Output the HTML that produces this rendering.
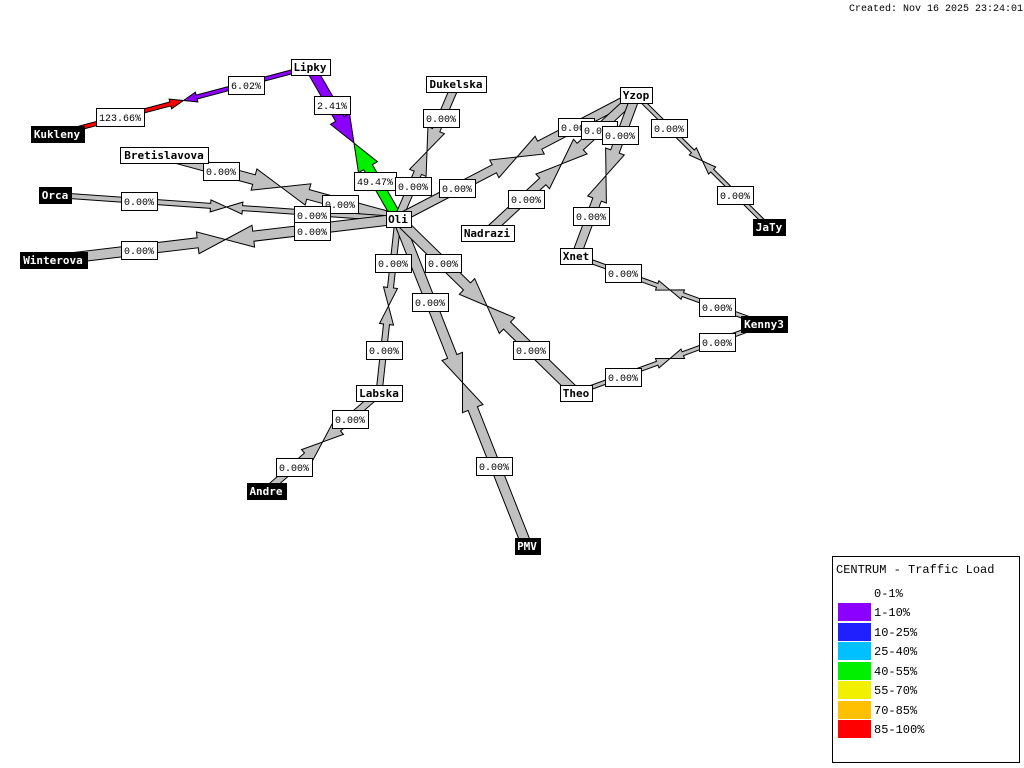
<!DOCTYPE html>
<html><head><meta charset="utf-8">
<style>
html,body{margin:0;padding:0;background:#fff;width:1024px;height:768px;overflow:hidden}
svg{display:block}
.lbl{font-family:"Liberation Mono","DejaVu Sans Mono",monospace;font-size:10px}
.nd{font-family:"DejaVu Sans Mono","Liberation Mono",monospace;font-size:11px;font-weight:bold}
</style></head><body>
<svg id="s" width="1024" height="768" xmlns="http://www.w3.org/2000/svg">
<g id="links"></g><g id="labels"></g><g id="nodes"></g>
<text x="849" y="11" class="lbl" fill="#000">Created: Nov 16 2025 23:24:01</text>
<rect x="832.5" y="556.5" width="187" height="206" fill="#fff" stroke="#000"/>
<text x="836" y="573" class="lbl" style="font-size:12px">CENTRUM - Traffic Load</text>
<g class="lbl" style="font-size:12px">
<text x="874" y="597">0-1%</text>
<rect x="838" y="603" width="33" height="18" fill="#8c00ff"/><text x="874" y="616">1-10%</text>
<rect x="838" y="623" width="33" height="18" fill="#2020ff"/><text x="874" y="636">10-25%</text>
<rect x="838" y="642" width="33" height="18" fill="#00c0ff"/><text x="874" y="655">25-40%</text>
<rect x="838" y="662" width="33" height="18" fill="#00f000"/><text x="874" y="675">40-55%</text>
<rect x="838" y="681" width="33" height="18" fill="#f0f000"/><text x="874" y="694">55-70%</text>
<rect x="838" y="701" width="33" height="18" fill="#ffc000"/><text x="874" y="714">70-85%</text>
<rect x="838" y="720" width="33" height="18" fill="#ff0000"/><text x="874" y="733">85-100%</text>
</g>
</svg>
<script>
var NS="http://www.w3.org/2000/svg";
var N={Lipky:[310,67,0],Kukleny:[57,134,1],Dukelska:[456,84,0],Yzop:[636,95,0],Bretislavova:[164,155,0],Orca:[55,195,1],Oli:[398,219,0],Nadrazi:[487,233,0],JaTy:[769,227,1],Xnet:[576,256,0],Winterova:[53,260,1],Kenny3:[764,324,1],Labska:[379,393,0],Theo:[576,393,0],Andre:[266,491,1],PMV:[527,546,1]};
var G="#c0c0c0";
var L=[
["Kukleny","Lipky",4,"#ff0000","#8c00ff","123.66%",[120,117],"6.02%",[246,85]],
["Lipky","Oli",10,"#8c00ff","#00f000","2.41%",[332,105],"49.47%",[375,181]],
["Dukelska","Oli",8,G,G,"0.00%",[441,118],"0.00%",[413,186]],
["Oli","Yzop",9,G,G,"0.00%",[457,188],"0.00%",[576,127]],
["Nadrazi","Yzop",9,G,G,"0.00%",[526,199],"0.00%",[599,130]],
["Xnet","Yzop",9,G,G,"0.00%",[591,216],"0.00%",[620,135]],
["Yzop","JaTy",4,G,G,"0.00%",[669,128],"0.00%",[735,195]],
["Bretislavova","Oli",10,G,G,"0.00%",[221,171],"0.00%",[340,204]],
["Orca","Oli",5,G,G,"0.00%",[139,201],"0.00%",[312,215]],
["Winterova","Oli",10,G,G,"0.00%",[139,250],"0.00%",[312,231]],
["Oli","Labska",6,G,G,"0.00%",[393,263],"0.00%",[384,350]],
["Oli","PMV",10,G,G,"0.00%",[430,302],"0.00%",[494,466]],
["Oli","Theo",10,G,G,"0.00%",[443,263],"0.00%",[531,350]],
["Labska","Andre",7,G,G,"0.00%",[350,419],"0.00%",[294,467]],
["Xnet","Kenny3",4,G,G,"0.00%",[623,273],"0.00%",[717,307]],
["Theo","Kenny3",4,G,G,"0.00%",[623,377],"0.00%",[717,342]]
];
function el(t,a,p){var e=document.createElementNS(NS,t);for(var k in a)e.setAttribute(k,a[k]);p.appendChild(e);return e;}
var gl=document.getElementById("links"),gb=document.getElementById("labels"),gn=document.getElementById("nodes");
function arrow(a,b,w,c){var dx=b[0]-a[0],dy=b[1]-a[1],l=Math.sqrt(dx*dx+dy*dy),ux=dx/l,uy=dy/l,px=-uy,py=ux,h=w/2,hl=Math.min(w*2.4+4,l*0.5),hw=w+1;
var bx=b[0]-ux*hl,by=b[1]-uy*hl;
var pts=[[a[0]+px*h,a[1]+py*h],[bx+px*h,by+py*h],[bx+px*hw,by+py*hw],[b[0],b[1]],[bx-px*hw,by-py*hw],[bx-px*h,by-py*h],[a[0]-px*h,a[1]-py*h]];
el("polygon",{points:pts.map(function(p){return p[0].toFixed(1)+","+p[1].toFixed(1)}).join(" "),fill:c,stroke:"#000","stroke-width":"1"},gl);}
L.forEach(function(k){var a=N[k[0]],b=N[k[1]],m=[(a[0]+b[0])/2,(a[1]+b[1])/2];arrow(a,m,k[2],k[3]);arrow(b,m,k[2],k[4]);
[[k[5],k[6]],[k[7],k[8]]].forEach(function(q){var w=q[0].length*6+6;el("rect",{x:Math.round(q[1][0]-w/2)+0.5,y:q[1][1]-9+0.5,width:w,height:18,fill:"#fff",stroke:"#000"},gb);
var t=el("text",{x:q[1][0],y:q[1][1]+4,"text-anchor":"middle","class":"lbl"},gb);t.textContent=q[0];});});
for(var n in N){var v=N[n],w=n.length*7+4;el("rect",{x:Math.round(v[0]-w/2)+0.5,y:v[1]-8+0.5,width:w,height:16,fill:v[2]?"#000":"#fff",stroke:"#000"},gn);
var t=el("text",{x:v[0],y:v[1]+4,"text-anchor":"middle","class":"nd",fill:v[2]?"#fff":"#000"},gn);t.textContent=n;}
</script>
</body></html>
